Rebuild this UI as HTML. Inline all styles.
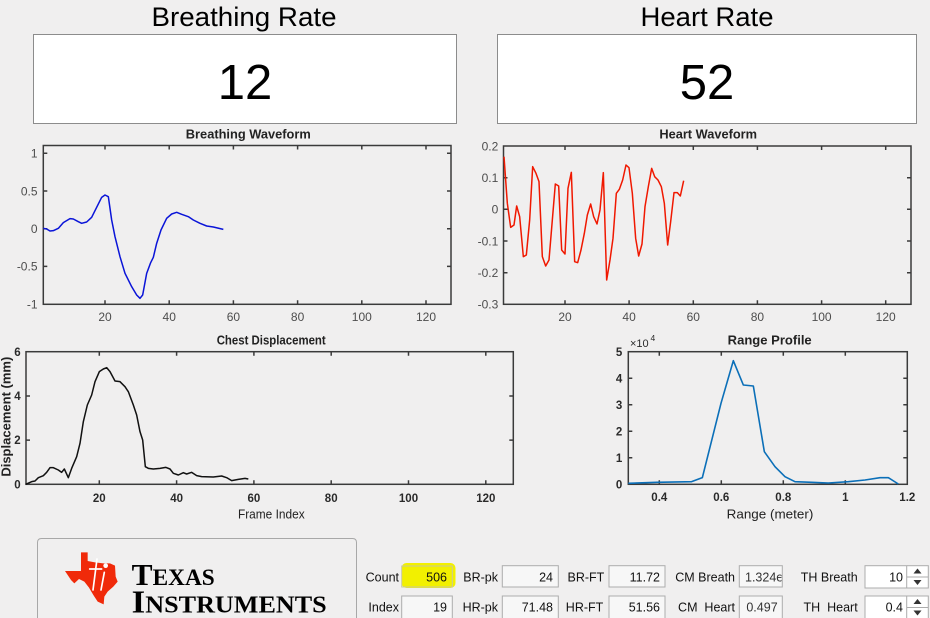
<!DOCTYPE html>
<html><head><meta charset="utf-8"><style>
html,body{margin:0;padding:0;background:#f0efef;}
svg{display:block;}
.s{font-family:"Liberation Sans",Arial,sans-serif;}
.serif{font-family:"Liberation Serif","Times New Roman",serif;}
</style></head><body>
<svg width="930" height="618" viewBox="0 0 930 618" xmlns="http://www.w3.org/2000/svg">
<rect x="0" y="0" width="930" height="618" fill="#f0efef"/>
<g class="s">
<!-- Header -->
<text x="244" y="26" font-size="27" text-anchor="middle" fill="#000" textLength="185" lengthAdjust="spacingAndGlyphs">Breathing Rate</text>
<text x="707" y="26" font-size="27" text-anchor="middle" fill="#000" textLength="133" lengthAdjust="spacingAndGlyphs">Heart Rate</text>
<rect x="33.5" y="34.5" width="423" height="89" fill="#fff" stroke="#8c8c8c" stroke-width="1"/>
<rect x="497.5" y="34.5" width="419" height="89" fill="#fff" stroke="#8c8c8c" stroke-width="1"/>
<text x="245" y="99" font-size="49" text-anchor="middle" fill="#000">12</text>
<text x="707" y="99" font-size="49" text-anchor="middle" fill="#000">52</text>

<!-- Breathing Waveform -->
<text x="248.3" y="138.5" font-size="12.5" font-weight="bold" text-anchor="middle" fill="#222" textLength="125" lengthAdjust="spacingAndGlyphs">Breathing Waveform</text>
<g fill="none" stroke="#3a3a3a" stroke-width="1.5">
<rect x="43.3" y="145.5" width="407.7" height="158.8"/>
<path d="M105 304.3v-4M169.2 304.3v-4M233.4 304.3v-4M297.6 304.3v-4M361.8 304.3v-4M426 304.3v-4
M105 145.5v4M169.2 145.5v4M233.4 145.5v4M297.6 145.5v4M361.8 145.5v4M426 145.5v4
M43.3 153.3h4M43.3 191h4M43.3 228.7h4M43.3 266.4h4
M451 153.3h-4M451 191h-4M451 228.7h-4M451 266.4h-4"/>
</g>
<g font-size="12" fill="#4d4d4d" text-anchor="end">
<text x="37.5" y="157.6">1</text>
<text x="37.5" y="195.3">0.5</text>
<text x="37.5" y="233">0</text>
<text x="37.5" y="270.7">-0.5</text>
<text x="37.5" y="308.4">-1</text>
</g>
<g font-size="12" fill="#4d4d4d" text-anchor="middle">
<text x="105" y="321">20</text>
<text x="169.2" y="321">40</text>
<text x="233.4" y="321">60</text>
<text x="297.6" y="321">80</text>
<text x="361.8" y="321">100</text>
<text x="426" y="321">120</text>
</g>
<g transform="translate(0,120) scale(0.33333)">
<polyline fill="none" stroke="#0a14d8" stroke-width="1.5" vector-effect="non-scaling-stroke" stroke-linejoin="round"
points="130,325 140,327 150,333 160,332 175,325 190,308 210,296 220,297 235,305 245,310 260,306 275,292 290,262 305,232 315,225 325,230 335,300 345,350 360,410 375,460 395,500 410,525 420,535 428,525 440,460 452,428 460,412 470,370 483,330 500,295 515,282 530,277 545,283 565,290 580,300 600,310 620,318 640,321 670,328"/>
</g>

<!-- Heart Waveform -->
<text x="708.2" y="138.5" font-size="12.5" font-weight="bold" text-anchor="middle" fill="#222" textLength="97.7" lengthAdjust="spacingAndGlyphs">Heart Waveform</text>
<g fill="none" stroke="#3a3a3a" stroke-width="1.5">
<rect x="503.5" y="146" width="407.5" height="158.3"/>
<path d="M565 304.3v-4M629.1 304.3v-4M693.3 304.3v-4M757.4 304.3v-4M821.6 304.3v-4M885.7 304.3v-4
M565 146v4M629.1 146v4M693.3 146v4M757.4 146v4M821.6 146v4M885.7 146v4
M503.5 177.7h4M503.5 209.3h4M503.5 241h4M503.5 272.7h4
M911 177.7h-4M911 209.3h-4M911 241h-4M911 272.7h-4"/>
</g>
<g font-size="12" fill="#4d4d4d" text-anchor="end">
<text x="498.3" y="150.3">0.2</text>
<text x="498.3" y="182">0.1</text>
<text x="498.3" y="213.6">0</text>
<text x="498.3" y="245.3">-0.1</text>
<text x="498.3" y="277">-0.2</text>
<text x="498.3" y="308.6">-0.3</text>
</g>
<g font-size="12" fill="#4d4d4d" text-anchor="middle">
<text x="565" y="321">20</text>
<text x="629.1" y="321">40</text>
<text x="693.3" y="321">60</text>
<text x="757.4" y="321">80</text>
<text x="821.6" y="321">100</text>
<text x="885.7" y="321">120</text>
</g>
<g transform="translate(465,120) scale(0.33333)">
<polyline fill="none" stroke="#f01800" stroke-width="1.5" vector-effect="non-scaling-stroke" stroke-linejoin="round"
points="117,110 127,250 137,322 147,315 155,258 164,290 175,410 184,405 194,300 203,140 213,160 222,185 232,410 242,438 252,420 262,300 271,192 281,198 290,390 300,402 309,205 319,157 329,425 338,428 348,390 358,340 367,285 377,252 386,290 396,312 405,270 415,158 425,480 435,420 444,355 454,220 463,208 473,180 483,135 492,143 502,220 512,355 521,408 531,372 540,260 550,200 560,145 569,170 579,180 589,200 598,250 608,375 617,305 627,218 637,218 646,228 656,182"/>
</g>

<!-- Chest Displacement -->
<text x="271.2" y="344.3" font-size="12.5" font-weight="bold" text-anchor="middle" fill="#222" textLength="109" lengthAdjust="spacingAndGlyphs">Chest Displacement</text>
<g fill="none" stroke="#3a3a3a" stroke-width="1.5">
<rect x="26" y="351.7" width="487.3" height="132.6"/>
<path d="M99.3 484.3v-4M176.6 484.3v-4M253.9 484.3v-4M331.2 484.3v-4M408.5 484.3v-4M485.8 484.3v-4
M99.3 351.7v4M176.6 351.7v4M253.9 351.7v4M331.2 351.7v4M408.5 351.7v4M485.8 351.7v4
M26 396h4M26 440.1h4M513.3 396h-4M513.3 440.1h-4"/>
</g>
<g font-size="11.5" font-weight="bold" fill="#2a2a2a" text-anchor="end">
<text x="20.7" y="355.8">6</text>
<text x="20.7" y="400.1">4</text>
<text x="20.7" y="444.2">2</text>
<text x="20.7" y="488.4">0</text>
</g>
<g font-size="11.5" font-weight="bold" fill="#2a2a2a" text-anchor="middle">
<text x="99.3" y="501.8">20</text>
<text x="176.6" y="501.8">40</text>
<text x="253.9" y="501.8">60</text>
<text x="331.2" y="501.8">80</text>
<text x="408.5" y="501.8">100</text>
<text x="485.8" y="501.8">120</text>
</g>
<text x="271.3" y="518.3" font-size="12.5" text-anchor="middle" fill="#222" textLength="66.7" lengthAdjust="spacingAndGlyphs">Frame Index</text>
<text transform="translate(10.5,416.7) rotate(-90)" x="0" y="0" font-size="12.5" font-weight="bold" text-anchor="middle" fill="#222" textLength="120" lengthAdjust="spacingAndGlyphs">Displacement (mm)</text>
<g transform="translate(0,325) scale(0.33333)">
<polyline fill="none" stroke="#111" stroke-width="1.5" vector-effect="non-scaling-stroke" stroke-linejoin="round"
points="77,478 95,470 105,468 115,458 130,452 140,442 150,428 160,428 175,435 185,442 193,432 205,458 215,430 230,395 240,355 250,290 262,240 275,210 285,170 298,140 310,132 320,128 330,140 345,168 360,170 375,185 385,200 400,240 410,270 420,320 428,345 436,425 445,430 460,432 480,430 497,427 510,432 520,445 535,450 550,443 560,447 575,442 590,452 605,455 640,456 665,453 680,458 695,467 715,463 735,460 745,462"/>
</g>

<!-- Range Profile -->
<text x="769.7" y="344.3" font-size="12.5" font-weight="bold" text-anchor="middle" fill="#222" textLength="84" lengthAdjust="spacingAndGlyphs">Range Profile</text>
<g fill="none" stroke="#3a3a3a" stroke-width="1.5">
<rect x="628.3" y="351.7" width="279" height="132.6"/>
<path d="M659.3 484.3v-4M721.3 484.3v-4M783.3 484.3v-4M845.3 484.3v-4
M659.3 351.7v4M721.3 351.7v4M783.3 351.7v4M845.3 351.7v4
M628.3 378.2h4M628.3 404.7h4M628.3 431.2h4M628.3 457.7h4
M907.3 378.2h-4M907.3 404.7h-4M907.3 431.2h-4M907.3 457.7h-4"/>
</g>
<g font-size="11.5" font-weight="bold" fill="#2a2a2a" text-anchor="end">
<text x="622.3" y="355.8">5</text>
<text x="622.3" y="382.3">4</text>
<text x="622.3" y="408.8">3</text>
<text x="622.3" y="435.3">2</text>
<text x="622.3" y="461.8">1</text>
<text x="622.3" y="488.4">0</text>
</g>
<text x="630" y="347" font-size="11" fill="#2a2a2a">×10</text>
<text x="650.5" y="341" font-size="8.5" fill="#2a2a2a">4</text>
<g font-size="11.5" font-weight="bold" fill="#2a2a2a" text-anchor="middle">
<text x="659.3" y="501">0.4</text>
<text x="721.3" y="501">0.6</text>
<text x="783.3" y="501">0.8</text>
<text x="845.3" y="501">1</text>
<text x="907.3" y="501">1.2</text>
</g>
<text x="770" y="518.3" font-size="12.5" text-anchor="middle" fill="#222" textLength="86.7" lengthAdjust="spacingAndGlyphs">Range (meter)</text>
<g transform="translate(595,325) scale(0.33333)">
<polyline fill="none" stroke="#0b6fb8" stroke-width="1.6" vector-effect="non-scaling-stroke" stroke-linejoin="round"
points="100,475 185,472 290,470 322,458 378,235 415,107 445,180 475,183 508,380 540,425 570,455 600,470 650,472 700,474 760,470 810,465 855,458 880,458 910,477"/>
</g>
</g>

<!-- TI logo panel -->
<path d="M37.5 622 V542.5 Q37.5 538.5 41.5 538.5 H352.5 Q356.5 538.5 356.5 542.5 V622" fill="#f0efef" stroke="#a8a8a8" stroke-width="1"/>
<g transform="translate(55,545) scale(0.33333)">
<polygon fill="#f02a0a" points="78,22 98,22 98,48 120,52 145,55 165,55 180,62 182,95 188,110 175,125 158,140 148,155 146,178 128,170 115,150 102,128 88,110 72,102 58,115 48,105 38,90 30,78 78,78"/>
<g stroke="#fff" stroke-width="5" fill="none" stroke-linecap="round">
<path d="M126 42 L114 135 M104 72 L140 72 M148 82 L138 135"/>
</g>
<circle cx="152" cy="62" r="7" fill="#fff"/>
</g>
<text class="serif" style="font-family:'Liberation Serif','Times New Roman',serif;font-weight:bold" x="131.7" y="585" fill="#000" textLength="83" lengthAdjust="spacingAndGlyphs"><tspan font-size="31">T</tspan><tspan font-size="23">EXAS</tspan></text>
<text class="serif" style="font-family:'Liberation Serif','Times New Roman',serif;font-weight:bold" x="131.7" y="612.7" fill="#000" textLength="195" lengthAdjust="spacingAndGlyphs"><tspan font-size="32">I</tspan><tspan font-size="24">NSTRUMENTS</tspan></text>

<g class="s">
<!-- Controls -->
<g font-size="12.5" fill="#111">
<text x="399" y="581.5" text-anchor="end">Count</text>
<text x="399" y="611.5" text-anchor="end">Index</text>
<text x="498" y="581.5" text-anchor="end">BR-pk</text>
<text x="498" y="611.5" text-anchor="end">HR-pk</text>
<text x="604.3" y="581.5" text-anchor="end">BR-FT</text>
<text x="603.3" y="611.5" text-anchor="end">HR-FT</text>
<text x="735" y="581.5" text-anchor="end">CM Breath</text>
<text x="735" y="611.5" text-anchor="end" xml:space="preserve">CM  Heart</text>
<text x="857.7" y="581.5" text-anchor="end">TH Breath</text>
<text x="857.7" y="611.5" text-anchor="end" xml:space="preserve">TH  Heart</text>
</g>

<!-- Count box with highlight -->
<rect x="401.5" y="563" width="54" height="25" rx="5" fill="#f2f000"/>
<rect x="401.7" y="566" width="50.6" height="21" fill="none" stroke="#c8c8a0" stroke-width="1"/>
<text x="447" y="581.5" font-size="12.5" text-anchor="end" fill="#111">506</text>
<rect x="401.7" y="596" width="50.6" height="25" fill="#f7f7f7" stroke="#acacac" stroke-width="1"/>
<text x="447" y="611.5" font-size="12.5" text-anchor="end" fill="#111">19</text>

<g fill="#f7f7f7" stroke="#acacac" stroke-width="1">
<rect x="502.3" y="565.7" width="56" height="21.3"/>
<rect x="502.3" y="596" width="56" height="25"/>
<rect x="609" y="565.7" width="56" height="21.3"/>
<rect x="609" y="596" width="56" height="25"/>
<rect x="739.3" y="565.7" width="43" height="21.3"/>
<rect x="739.3" y="596" width="43" height="25"/>
</g>
<g font-size="12.5" fill="#111" text-anchor="end">
<text x="553" y="581.5">24</text>
<text x="553" y="611.5">71.48</text>
<text x="660" y="581.5">11.72</text>
<text x="660" y="611.5">51.56</text>
</g>
<svg x="740" y="566" width="41.5" height="20" overflow="hidden">
<text class="s" x="5" y="15.5" font-size="12.5" fill="#333">1.324e5</text>
</svg>
<text x="762" y="611.5" font-size="12.5" fill="#333" text-anchor="middle">0.497</text>

<!-- Spinners -->
<g fill="#fff" stroke="#acacac" stroke-width="1">
<rect x="865" y="565.7" width="63.3" height="22.3"/>
<rect x="865" y="596" width="63.3" height="25"/>
</g>
<g stroke="#acacac" stroke-width="1">
<path d="M906.7 565.7V588M906.7 577H928.3M906.7 596V621M906.7 607.5H928.3"/>
</g>
<g fill="#333">
<path d="M917.5 568.5 L921.5 573.5 H913.5Z"/>
<path d="M917.5 585 L921.5 580 H913.5Z"/>
<path d="M917.5 599 L921.5 604 H913.5Z"/>
<path d="M917.5 615.5 L921.5 610.5 H913.5Z"/>
</g>
<g font-size="12.5" fill="#111" text-anchor="end">
<text x="903" y="581.5">10</text>
<text x="903" y="611.5">0.4</text>
</g>
</g>
</svg>
</body></html>
